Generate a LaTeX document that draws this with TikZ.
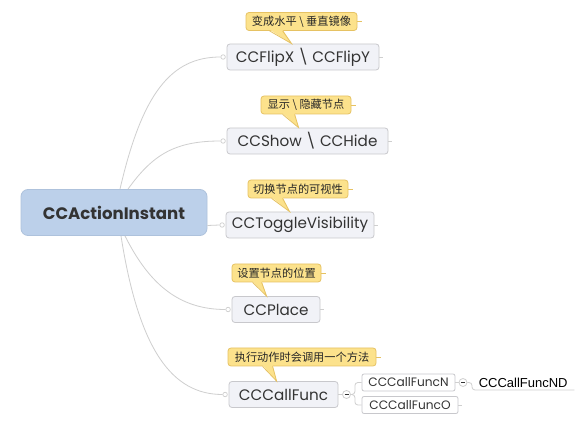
\documentclass[tikz,border=0pt]{standalone}
\usepackage{fontspec}
\setmainfont{Poppins}
\newfontfamily\cjk{Noto Sans CJK SC}
\newfontfamily\helv{Liberation Sans}
\usetikzlibrary{calc}
\definecolor{linkc}{HTML}{CFCFCF}
\definecolor{rootf}{HTML}{BCD0EA}
\definecolor{rootb}{HTML}{AEC2DC}
\definecolor{boxf}{HTML}{F1F2F7}
\definecolor{boxb}{HTML}{C8C8CC}
\definecolor{calf}{HTML}{FCE28C}
\definecolor{calb}{HTML}{E6C263}
\definecolor{txt}{HTML}{333333}
\tikzset{
  rootnode/.style={draw=rootb, fill=rootf, rounded corners=7pt, minimum width=186pt, minimum height=46pt, inner sep=0pt, line width=0.8pt, text=txt, font=\bfseries\fontsize{16.6}{19}\selectfont},
  branch/.style={draw=boxb, fill=boxf, rounded corners=3pt, minimum height=26pt, inner sep=0pt, line width=0.8pt, text=txt, font=\fontsize{15.2}{18}\selectfont},
  subnode/.style={draw=boxb, fill=white, rounded corners=2pt, minimum height=17pt, inner sep=0pt, line width=0.8pt, text=txt, font=\fontsize{12.2}{14}\selectfont},
  callout/.style={draw=calb, fill=calf, rounded corners=3pt, minimum height=18pt, inner sep=0pt, line width=0.8pt, text=black!85, font=\cjk\fontsize{11.2}{13}\selectfont},
  linkline/.style={draw=linkc, line width=0.8pt},
  calltail/.style={draw=calb, line width=0.8pt},
  knob/.style={circle, draw=linkc, fill=white, line width=0.7pt, minimum size=4.5pt, inner sep=0pt},
  minusknob/.style={circle, draw=linkc, fill=white, line width=0.8pt, minimum size=8pt, inner sep=0pt},
}
\newcommand{\pointer}[4]{% callout, base-left offset, base-right offset, tip coordinate
  \fill[calf] ($(#1.south west)+(#2,-1.2)$) -- (#4) -- ($(#1.south west)+(#3,-1.2)$) -- cycle;
  \draw[calb, line width=0.8pt] ($(#1.south west)+(#2,0)$) -- (#4) -- ($(#1.south west)+(#3,0)$);
}
\begin{document}
\begin{tikzpicture}[x=1pt,y=-1pt]
\useasboundingbox (0,0) rectangle (587,422);
\fill[white] (0,0) rectangle (587,422);

% root
\node[rootnode] (root) at (114,212.5) {CCActionInstant};

% branches
\node[branch, minimum width=152pt] (b1) at (303,57) {CCFlipX \textbackslash\ CCFlipY};
\node[branch, minimum width=161pt] (b2) at (307.5,141) {CCShow \textbackslash\ CCHide};
\node[branch, minimum width=148pt] (b3) at (300,225) {CCToggleVisibility};
\node[branch, minimum width=88pt] (b4) at (276,309.5) {CCPlace};
\node[branch, minimum width=109pt] (b5) at (283.5,394.5) {CCCallFunc};

% knobs
\node[knob] (k1) at ($(b1.west)+(-3.5,0)$) {};
\node[knob] (k2) at ($(b2.west)+(-3.5,0)$) {};
\node[knob] (k3) at ($(b3.west)+(-3.5,0)$) {};
\node[knob] (k4) at ($(b4.west)+(-3.5,0)$) {};
\node[knob] (k5) at ($(b5.west)+(-3.5,0)$) {};

% connectors from root
\coordinate (r1) at ($(root.north)+(6,0)$);
\coordinate (r2) at ($(root.north)+(14,0)$);
\coordinate (r3) at ($(root.east)+(0,13)$);
\coordinate (r4) at ($(root.south)+(11,0)$);
\coordinate (r5) at ($(root.south)+(7,0)$);
\draw[linkline] (r1) .. controls ($(r1)+(22,-95)$) and ($(k1.west)+(-50,0)$) .. (k1.west);
\draw[linkline] (r2) .. controls ($(r2)+(25,-35)$) and ($(k2.west)+(-45,0)$) .. (k2.west);
\draw[linkline] (r3) -- (k3.west);
\draw[linkline] (r4) .. controls ($(r4)+(25,50)$) and ($(k4.west)+(-45,0)$) .. (k4.west);
\draw[linkline] (r5) .. controls ($(r5)+(18,115)$) and ($(k5.west)+(-50,0)$) .. (k5.west);

% stubs to right of branches
\draw[linkline] (b1.east) -- ++(4,0);
\draw[linkline] (b2.east) -- ++(4,0);
\draw[linkline] (b3.east) -- ++(4,0);
\draw[linkline] (b4.east) -- ++(4,0);

% callouts
\node[callout, minimum width=111pt] (c1) at (301.5,21.5) {变成水平 \textbackslash\ 垂直镜像};
\node[callout, minimum width=90pt] (c2) at (306,105) {显示 \textbackslash\ 隐藏节点};
\node[callout, minimum width=100pt] (c3) at (298,189) {切换节点的可视性};
\node[callout, minimum width=89pt] (c4) at (276.5,273) {设置节点的位置};
\node[callout, minimum width=148pt] (c5) at (302,357) {执行动作时会调用一个方法};

\coordinate (t1) at ($(b1.north west)+(65,0)$);
\coordinate (t2) at ($(b2.north west)+(72,0)$);
\coordinate (t3) at ($(b3.north west)+(64,0)$);
\coordinate (t4) at ($(b4.north west)+(35,0)$);
\coordinate (t5) at ($(b5.north west)+(48,0)$);
\pointer{c1}{24}{37}{t1}
\pointer{c2}{22}{34}{t2}
\pointer{c3}{24}{35}{t3}
\pointer{c4}{21}{30}{t4}
\pointer{c5}{35}{45}{t5}

\draw[calltail] (c1.east) -- ++(5,0);
\draw[calltail] (c2.east) -- ++(5,0);
\draw[calltail] (c3.east) -- ++(5,0);
\draw[calltail] (c4.east) -- ++(5,0);
\draw[calltail] (c5.east) -- ++(5,0);

% CCCallFunc children
\node[minusknob] (m1) at (346.5,394.5) {};
\draw[txt, line width=0.8pt] ($(m1.center)+(-2,0)$) -- ($(m1.center)+(2,0)$);
\node[subnode, minimum width=93pt] (s1) at (408.5,382.5) {CCCallFuncN};
\node[subnode, minimum width=96pt] (s2) at (410,405) {CCCallFuncO};
\draw[linkline] (b5.east) -- (m1.west);
\draw[linkline, rounded corners=3pt] (m1.east) -- ++(4,0) |- (s1.west);
\draw[linkline, rounded corners=3pt] (m1.east) -- ++(4,0) |- (s2.west);
\draw[linkline] (s2.east) -- ++(4,0);

\node[minusknob] (m2) at (463,382.5) {};
\draw[txt, line width=0.8pt] ($(m2.center)+(-2,0)$) -- ($(m2.center)+(2,0)$);
\draw[linkline] (s1.east) -- (m2.west);
\node[inner sep=0pt, minimum width=102pt, minimum height=14pt, anchor=south west, font=\helv\fontsize{13}{15}\selectfont, text=black] (nd) at (472,390) {CCCallFuncND};
\draw[linkline, rounded corners=3pt] (m2.east) -- ($(nd.south west)+(0,-7.5)$) -- (nd.south west) -- (nd.south east);
\end{tikzpicture}
\end{document}
